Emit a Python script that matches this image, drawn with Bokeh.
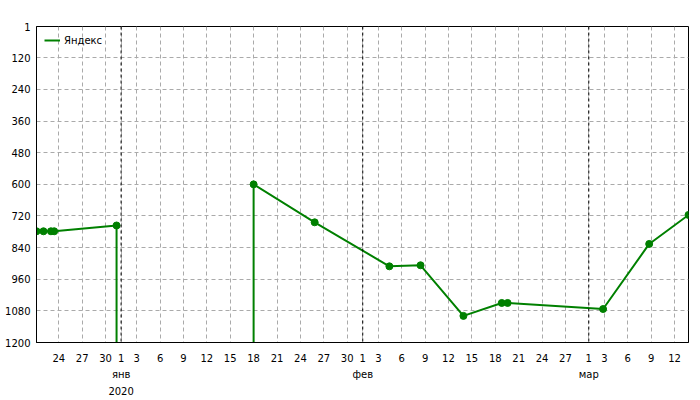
from datetime import datetime, timedelta
from bokeh.plotting import figure
from bokeh.models import (Range1d, LinearAxis, FixedTicker, Span, Legend, LegendItem,
                          Grid)
from bokeh.embed import file_html
from bokeh.resources import INLINE

# ---- data ----
series_name = "Яндекс"
dates = [
    datetime(2019, 12, 21, 3, 30),
    datetime(2019, 12, 22, 1, 0),
    datetime(2019, 12, 23, 0, 0),
    datetime(2019, 12, 23, 10, 0),
    datetime(2019, 12, 31, 10, 0),
    datetime(2019, 12, 31, 10, 0),
    datetime(2020, 1, 18, 0, 0),
    datetime(2020, 1, 18, 0, 0),
    datetime(2020, 1, 25, 20, 0),
    datetime(2020, 2, 4, 10, 0),
    datetime(2020, 2, 8, 10, 0),
    datetime(2020, 2, 13, 22, 0),
    datetime(2020, 2, 18, 20, 0),
    datetime(2020, 2, 19, 14, 0),
    datetime(2020, 3, 2, 20, 0),
    datetime(2020, 3, 8, 18, 0),
    datetime(2020, 3, 13, 19, 0),
]
# positions; 1500 = not in the top (below the visible range)
positions = [778, 778, 778, 778, 756, 1500, 1500, 600, 744, 911, 907,
             1099, 1050, 1050, 1073, 826, 716]

y_ticks = [1, 120, 240, 360, 480, 600, 720, 840, 960, 1080, 1200]
month_names = {1: "янв", 2: "фев", 3: "мар"}
month_starts = [datetime(2020, 1, 1), datetime(2020, 2, 1), datetime(2020, 3, 1)]
year_start = datetime(2020, 1, 1)
year_label = "2020"
tick_days = [1, 3, 6, 9, 12, 15, 18, 21, 24, 27, 30]


def ms(d):
    return (d - datetime(1970, 1, 1)).total_seconds() * 1000.0


xs = [ms(d) for d in dates]

# x ticks
tick_dates = []
d = datetime(2019, 12, 1)
while d <= datetime(2020, 3, 31):
    if d.day in tick_days and dates[0] <= d <= dates[-1]:
        tick_dates.append(d)
    d += timedelta(days=1)
x_ticks = [ms(t) for t in tick_dates]
x_labels = {ms(t): str(t.day) for t in tick_dates}
m_ticks = [ms(m) for m in month_starts]
m_labels = {ms(m): month_names[m.month] for m in month_starts}

FONT = "DejaVu Sans"
GREEN = "#008000"

p = figure(width=700, height=400, output_backend="svg", toolbar_location=None,
           x_axis_type=None, y_axis_type=None,
           x_range=Range1d(xs[0], xs[-1]), y_range=Range1d(1200, 1),
           min_border_left=36, min_border_right=12, min_border_top=26,
           min_border_bottom=58)
p.outline_line_color = "black"
p.outline_line_width = 1
p.background_fill_color = "white"
p.border_fill_color = "white"

xt = FixedTicker(ticks=x_ticks)
yt = FixedTicker(ticks=y_ticks)


def style_axis(ax, standoff, line=True):
    ax.major_tick_line_color = None
    ax.minor_tick_line_color = None
    ax.major_label_standoff = standoff
    ax.major_label_text_font = FONT
    ax.major_label_text_font_size = "10px"
    ax.major_label_text_color = "black"
    ax.axis_line_color = "black" if line else None


xaxis = LinearAxis(ticker=xt, major_label_overrides=x_labels)
style_axis(xaxis, 5)
p.add_layout(xaxis, "below")

maxis = LinearAxis(ticker=FixedTicker(ticks=m_ticks), major_label_overrides=m_labels)
style_axis(maxis, -2, line=False)
p.add_layout(maxis, "below")

yr_axis = LinearAxis(ticker=FixedTicker(ticks=[ms(year_start)]),
                     major_label_overrides={ms(year_start): year_label})
style_axis(yr_axis, -2, line=False)
p.add_layout(yr_axis, "below")

yaxis = LinearAxis(ticker=yt)
style_axis(yaxis, 0)
p.add_layout(yaxis, "left")

for dim, tk in ((0, xt), (1, yt)):
    g = Grid(dimension=dim, ticker=tk, grid_line_color="#aaaaaa",
             grid_line_dash="4 3", grid_line_width=1)
    p.add_layout(g, "center")

for m in month_starts:
    p.add_layout(Span(location=ms(m), dimension="height", line_color="black",
                      line_dash="3 3", line_width=1))

line = p.line(xs, positions, line_color=GREEN, line_width=2)
p.scatter(xs, positions, size=7, fill_color=GREEN, line_color=GREEN)

legend = Legend(items=[LegendItem(label=series_name, renderers=[line])],
                location="top_left", orientation="horizontal")
legend.border_line_color = None
legend.background_fill_alpha = 0
legend.padding = 0
legend.margin = 8
legend.spacing = 0
legend.glyph_width = 16
legend.glyph_height = 12
legend.label_height = 12
legend.label_standoff = 4
legend.label_text_font = FONT
legend.label_text_font_size = "10px"
legend.label_text_color = "black"
p.add_layout(legend)

open("out.html", "w").write(file_html(p, INLINE))
